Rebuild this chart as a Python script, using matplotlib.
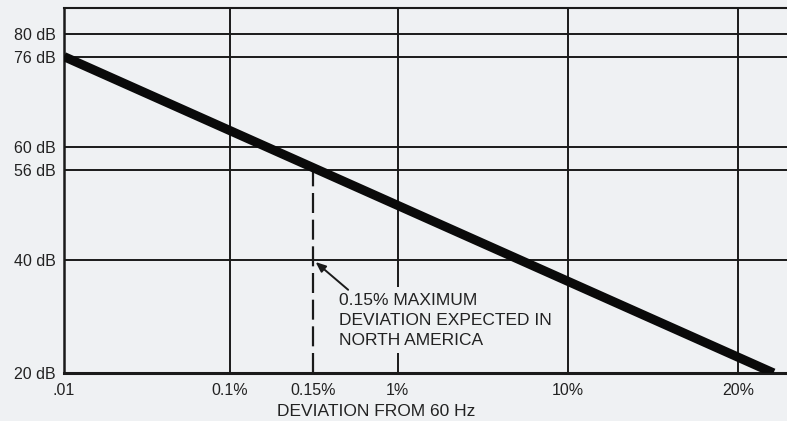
import numpy as np
import matplotlib
matplotlib.use("Agg")
import matplotlib.pyplot as plt

# ---- data ----
x_tick_values = [0.01, 0.1, 0.15, 1, 10, 20]          # deviation from 60 Hz (%)
x_tick_labels = ['.01', '0.1%', '0.15%', '1%', '10%', '20%']
y_tick_values = [20, 40, 56, 60, 76, 80]              # dB
y_tick_labels = ['20 dB', '40 dB', '56 dB', '60 dB', '76 dB', '80 dB']
deviation = [0.01, 23.1]                              # %
level_db = [76, 20]                                   # dB
max_deviation = 0.15                                  # % (North America)
max_level = 56                                        # dB
solid_verticals = [0.1, 1, 10, 20]

# ---- stylised (non-uniform) x scale: each labelled value gets a slot ----
slot = np.array([0, 1.97, 2.955, 3.96, 5.98, 8], dtype=float)
lk = np.log10(np.array(x_tick_values))
lo_s = (slot[1] - slot[0]) / (lk[1] - lk[0])
hi_s = (slot[-1] - slot[-2]) / (lk[-1] - lk[-2])

def fwd(x):
    x = np.asarray(x, dtype=float)
    l = np.log10(np.clip(x, 1e-9, None))
    y = np.interp(l, lk, slot)
    y = np.where(l < lk[0], slot[0] + (l - lk[0]) * lo_s, y)
    y = np.where(l > lk[-1], slot[-1] + (l - lk[-1]) * hi_s, y)
    return y

def inv(p):
    p = np.asarray(p, dtype=float)
    l = np.interp(p, slot, lk)
    l = np.where(p < slot[0], lk[0] + (p - slot[0]) / lo_s, l)
    l = np.where(p > slot[-1], lk[-1] + (p - slot[-1]) / hi_s, l)
    return 10 ** l

bg = '#eff1f3'
ink = '#1a1a1a'
txt = '#222222'
plt.rcParams['font.family'] = ['Liberation Sans', 'DejaVu Sans']

fig = plt.figure(figsize=(7.87, 4.21), dpi=100, facecolor=bg)
ax = fig.add_axes([64 / 787, 1 - 373 / 421, 1 - 64 / 787, 365 / 421])
ax.set_facecolor(bg)
ax.set_xscale('function', functions=(fwd, inv))
ax.set_xlim(0.01, float(inv(8.58)))
ax.set_ylim(20, 84.6)

# grid
for yv in y_tick_values[1:]:
    ax.axhline(yv, color=ink, lw=1.4, zorder=1)
for xv in solid_verticals:
    ax.axvline(xv, color=ink, lw=1.4, zorder=1)
ax.plot([max_deviation, max_deviation], [20, max_level], color=ink, lw=1.6,
        dashes=(9, 3), zorder=1)

for side in ['left', 'top', 'bottom']:
    ax.spines[side].set_color(ink)
ax.spines['left'].set_linewidth(1.8)
ax.spines['top'].set_linewidth(1.5)
ax.spines['bottom'].set_linewidth(2.2)
ax.spines['right'].set_visible(False)

ax.set_xticks(x_tick_values)
ax.set_xticklabels(x_tick_labels)
ax.set_yticks(y_tick_values)
ax.set_yticklabels(y_tick_labels)
ax.tick_params(length=0, labelsize=11.5, labelcolor=txt)
ax.tick_params(axis='y', pad=6)
ax.tick_params(axis='x', pad=7)
ax.xaxis.set_minor_locator(matplotlib.ticker.NullLocator())

# main curve
ax.plot(deviation, level_db, color='#0a0a0a', lw=6.6, solid_capstyle='butt', zorder=4)

# annotation
ax.text(0.381, 0.220, '0.15% MAXIMUM\nDEVIATION EXPECTED IN\nNORTH AMERICA',
        transform=ax.transAxes, ha='left', va='top', fontsize=12.5,
        color=txt, linespacing=1.42, zorder=3,
        bbox=dict(boxstyle='square,pad=0.3', fc=bg, ec='none'))
ax.annotate('', xy=(0.348, 0.304), xytext=(0.393, 0.228),
            xycoords='axes fraction', textcoords='axes fraction',
            arrowprops=dict(arrowstyle='-|>,head_length=0.6,head_width=0.25',
                            color=ink, lw=1.4, shrinkA=0, shrinkB=0), zorder=5)

fig.text(376 / 787, 1 - 412 / 421, 'DEVIATION FROM 60 Hz', ha='center', va='center',
         fontsize=12.5, color=txt)

fig.savefig('out.png', dpi=100, facecolor=bg)
